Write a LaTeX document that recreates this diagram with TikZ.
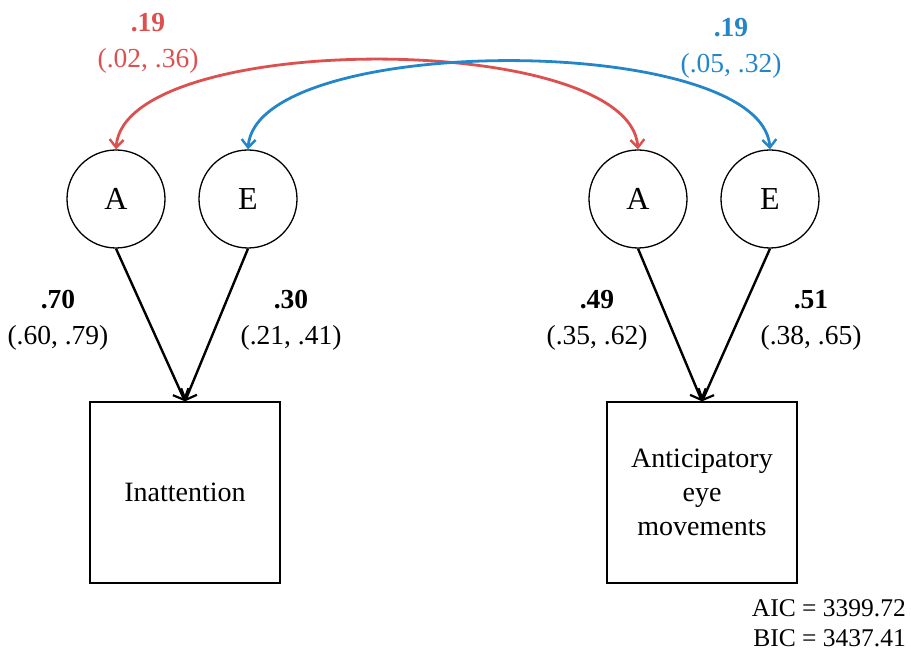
\documentclass[tikz,border=0pt]{standalone}
\usepackage{fontspec}
\setmainfont{Liberation Serif}
\usetikzlibrary{arrows.meta}
\definecolor{corred}{RGB}{221,80,80}
\definecolor{corblue}{RGB}{36,134,200}
\begin{document}
\begin{tikzpicture}[x=1pt,y=-1pt,
  latent/.style={draw,circle,line width=1.3pt,minimum size=98pt,inner sep=0pt,font=\fontsize{32}{36}\selectfont},
  observed/.style={draw,rectangle,line width=1.3pt,minimum width=190pt,minimum height=181pt,inner sep=0pt,align=center,font=\fontsize{28}{34}\selectfont},
  lbl/.style={align=center,font=\fontsize{27.5}{36}\selectfont},
  path/.style={line width=2.4pt,-{Straight Barb[length=9pt,width=17pt,line width=2.2pt]}},
  cov/.style={line width=2.8pt,{Straight Barb[length=8pt,width=14pt,line width=2.4pt]}-{Straight Barb[length=8pt,width=14pt,line width=2.4pt]}}
]
\useasboundingbox (0,0) rectangle (911,652);

% latent factors
\node[latent] (A1) at (116,199) {A};
\node[latent] (E1) at (248,199) {E};
\node[latent] (A2) at (638,199) {A};
\node[latent] (E2) at (770,199) {E};

% observed measures
\node[observed] (inat) at (185,492.5) {Inattention};
\node[observed] (antic) at (702,492.5) {Anticipatory\\eye\\movements};

% paths
\draw[path] (A1.south) -- (inat.north);
\draw[path] (E1.south) -- (inat.north);
\draw[path] (A2.south) -- (antic.north);
\draw[path] (E2.south) -- (antic.north);

% cross-trait correlations
\draw[cov,corred] (A1.north) .. controls (124,30) and (630,30) .. (A2.north);
\draw[cov,corblue] (E1.north) .. controls (256,32) and (762,32) .. (E2.north);

% estimates
\node[lbl,corred] (rA) at (148,43) {\textbf{.19}\\(.02, .36)};
\node[lbl,corblue] (rE) at (731,48) {\textbf{.19}\\(.05, .32)};
\node[lbl] (pA1) at (58,320) {\textbf{.70}\\(.60, .79)};
\node[lbl] (pE1) at (291,320) {\textbf{.30}\\(.21, .41)};
\node[lbl] (pA2) at (597,320) {\textbf{.49}\\(.35, .62)};
\node[lbl] (pE2) at (811,320) {\textbf{.51}\\(.38, .65)};

% fit indices
\node[align=right,anchor=east,inner sep=2pt,font=\fontsize{25.5}{30}\selectfont] (fit) at (908,623) {AIC = 3399.72\\BIC = 3437.41};
\end{tikzpicture}
\end{document}
